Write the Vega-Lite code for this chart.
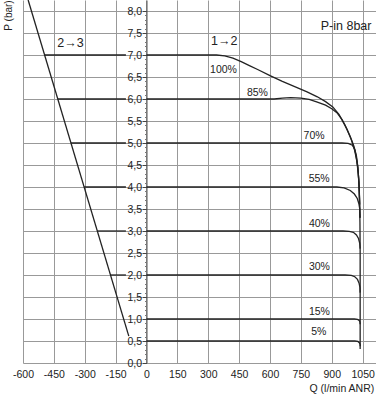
{
  "$schema": "https://vega.github.io/schema/vega-lite/v6.json",
  "width": 353,
  "height": 363,
  "autosize": {"type": "none"},
  "padding": {"left": 23, "top": 0, "right": 0, "bottom": 31},
  "config": {
    "font": "Liberation Sans",
    "view": {"stroke": null},
    "axis": {"labelColor": "#222", "titleColor": "#222", "titleFontWeight": "normal"}
  },
  "resolve": {"axis": {"y": "independent"}},
  "datasets": {
    "curves": [
      {"s": "23", "i": 0, "q": -575, "p": 8.25}, {"s": "23", "i": 1, "q": -86, "p": 0.61},
      {"s": "L7", "i": 0, "q": -495, "p": 7}, {"s": "L7", "i": 1, "q": -100, "p": 7},
      {"s": "L6", "i": 0, "q": -431, "p": 6}, {"s": "L6", "i": 1, "q": -100, "p": 6},
      {"s": "L5", "i": 0, "q": -367, "p": 5}, {"s": "L5", "i": 1, "q": -100, "p": 5},
      {"s": "L4", "i": 0, "q": -303, "p": 4}, {"s": "L4", "i": 1, "q": -100, "p": 4},
      {"s": "L3", "i": 0, "q": -239, "p": 3}, {"s": "L3", "i": 1, "q": -100, "p": 3},
      {"s": "L2", "i": 0, "q": -175, "p": 2}, {"s": "L2", "i": 1, "q": -100, "p": 2},
      {"s": "100", "i": 0, "q": 0, "p": 7}, {"s": "100", "i": 1, "q": 340, "p": 7},
      {"s": "100", "i": 2, "q": 380, "p": 6.98}, {"s": "100", "i": 3, "q": 420, "p": 6.93},
      {"s": "100", "i": 4, "q": 460, "p": 6.85}, {"s": "100", "i": 5, "q": 500, "p": 6.76},
      {"s": "100", "i": 6, "q": 540, "p": 6.67}, {"s": "100", "i": 7, "q": 600, "p": 6.53},
      {"s": "100", "i": 8, "q": 660, "p": 6.4}, {"s": "100", "i": 9, "q": 720, "p": 6.28},
      {"s": "100", "i": 10, "q": 780, "p": 6.16}, {"s": "100", "i": 11, "q": 830, "p": 6.05},
      {"s": "100", "i": 12, "q": 870, "p": 5.94}, {"s": "100", "i": 13, "q": 905, "p": 5.82},
      {"s": "100", "i": 14, "q": 935, "p": 5.65}, {"s": "100", "i": 15, "q": 965, "p": 5.4},
      {"s": "100", "i": 16, "q": 990, "p": 5.15}, {"s": "100", "i": 17, "q": 1008, "p": 4.92},
      {"s": "100", "i": 18, "q": 1018, "p": 4.72}, {"s": "100", "i": 19, "q": 1026, "p": 4.47},
      {"s": "100", "i": 20, "q": 1032, "p": 4.12}, {"s": "100", "i": 21, "q": 1035, "p": 3.7},
      {"s": "100", "i": 22, "q": 1037, "p": 3.2}, {"s": "100", "i": 23, "q": 1038, "p": 2.5},
      {"s": "100", "i": 24, "q": 1038, "p": 0.32},
      {"s": "85", "i": 0, "q": 0, "p": 6}, {"s": "85", "i": 1, "q": 620, "p": 6},
      {"s": "85", "i": 2, "q": 660, "p": 6.02}, {"s": "85", "i": 3, "q": 700, "p": 6.03},
      {"s": "85", "i": 4, "q": 750, "p": 6.02}, {"s": "85", "i": 5, "q": 790, "p": 5.99},
      {"s": "85", "i": 6, "q": 830, "p": 5.93}, {"s": "85", "i": 7, "q": 870, "p": 5.86},
      {"s": "85", "i": 8, "q": 900, "p": 5.78}, {"s": "85", "i": 9, "q": 925, "p": 5.69},
      {"s": "85", "i": 10, "q": 950, "p": 5.53}, {"s": "85", "i": 11, "q": 975, "p": 5.3},
      {"s": "85", "i": 12, "q": 996, "p": 5.06}, {"s": "85", "i": 13, "q": 1012, "p": 4.82},
      {"s": "85", "i": 14, "q": 1022, "p": 4.58}, {"s": "85", "i": 15, "q": 1029, "p": 4.3},
      {"s": "85", "i": 16, "q": 1034, "p": 3.9}, {"s": "85", "i": 17, "q": 1037, "p": 3.3},
      {"s": "70", "i": 0, "q": 0, "p": 5}, {"s": "70", "i": 1, "q": 950, "p": 5},
      {"s": "70", "i": 2, "q": 980, "p": 4.99}, {"s": "70", "i": 3, "q": 1000, "p": 4.95},
      {"s": "70", "i": 4, "q": 1012, "p": 4.86}, {"s": "70", "i": 5, "q": 1020, "p": 4.7},
      {"s": "70", "i": 6, "q": 1027, "p": 4.45}, {"s": "70", "i": 7, "q": 1032, "p": 4.1},
      {"s": "70", "i": 8, "q": 1036, "p": 3.6},
      {"s": "55", "i": 0, "q": 0, "p": 4}, {"s": "55", "i": 1, "q": 925, "p": 4},
      {"s": "55", "i": 2, "q": 960, "p": 3.98}, {"s": "55", "i": 3, "q": 990, "p": 3.92},
      {"s": "55", "i": 4, "q": 1010, "p": 3.84}, {"s": "55", "i": 5, "q": 1024, "p": 3.74},
      {"s": "55", "i": 6, "q": 1032, "p": 3.62}, {"s": "55", "i": 7, "q": 1036, "p": 3.5},
      {"s": "55", "i": 8, "q": 1038, "p": 3.3},
      {"s": "40", "i": 0, "q": 0, "p": 3}, {"s": "40", "i": 1, "q": 955, "p": 3},
      {"s": "40", "i": 2, "q": 985, "p": 2.99}, {"s": "40", "i": 3, "q": 1005, "p": 2.97},
      {"s": "40", "i": 4, "q": 1020, "p": 2.91}, {"s": "40", "i": 5, "q": 1030, "p": 2.83},
      {"s": "40", "i": 6, "q": 1036, "p": 2.72}, {"s": "40", "i": 7, "q": 1038, "p": 2.6},
      {"s": "30", "i": 0, "q": 0, "p": 2}, {"s": "30", "i": 1, "q": 965, "p": 2},
      {"s": "30", "i": 2, "q": 995, "p": 1.99}, {"s": "30", "i": 3, "q": 1012, "p": 1.96},
      {"s": "30", "i": 4, "q": 1025, "p": 1.9}, {"s": "30", "i": 5, "q": 1033, "p": 1.81},
      {"s": "30", "i": 6, "q": 1037, "p": 1.72}, {"s": "30", "i": 7, "q": 1038, "p": 1.6},
      {"s": "15", "i": 0, "q": 0, "p": 1}, {"s": "15", "i": 1, "q": 1010, "p": 1},
      {"s": "15", "i": 2, "q": 1025, "p": 0.99}, {"s": "15", "i": 3, "q": 1033, "p": 0.97},
      {"s": "15", "i": 4, "q": 1037, "p": 0.93}, {"s": "15", "i": 5, "q": 1038, "p": 0.88},
      {"s": "5", "i": 0, "q": 0, "p": 0.5}, {"s": "5", "i": 1, "q": 1012, "p": 0.5},
      {"s": "5", "i": 2, "q": 1027, "p": 0.49}, {"s": "5", "i": 3, "q": 1034, "p": 0.46},
      {"s": "5", "i": 4, "q": 1038, "p": 0.42}, {"s": "5", "i": 5, "q": 1038, "p": 0.38}
    ],
    "big": [
      {"t": "2→3", "q": -369, "p": 7.27},
      {"t": "1→2", "q": 378, "p": 7.31}
    ],
    "corner": [
      {"t": "P-in 8bar", "q": 1093, "p": 7.67}
    ],
    "pct": [
      {"t": "100%", "q": 374, "p": 6.67},
      {"t": "85%", "q": 539, "p": 6.13},
      {"t": "70%", "q": 814, "p": 5.17},
      {"t": "55%", "q": 839, "p": 4.19},
      {"t": "40%", "q": 840, "p": 3.17},
      {"t": "30%", "q": 840, "p": 2.18},
      {"t": "15%", "q": 840, "p": 1.16},
      {"t": "5%", "q": 837, "p": 0.7}
    ]
  },
  "encoding": {
    "x": {
      "field": "q", "type": "quantitative",
      "scale": {"domain": [-600, 1115], "nice": false, "zero": false},
      "axis": {
        "orient": "bottom",
        "values": [-600, -450, -300, -150, 0, 150, 300, 450, 600, 750, 900, 1050],
        "labelExpr": "'' + datum.value",
        "grid": true, "gridColor": "#999", "gridWidth": 1,
        "ticks": false, "domain": false,
        "labelPadding": 6, "labelFontSize": 10.5, "labelFlush": false, "labelOverlap": false,
        "title": "Q (l/min ANR)", "titleFontSize": 10.5,
        "titleX": 286, "titleY": 25, "titleAlign": "left", "titleBaseline": "middle"
      }
    }
  },
  "layer": [
    {
      "data": {"name": "curves"},
      "mark": {"type": "line", "color": "#222", "strokeWidth": 1.3, "clip": true},
      "encoding": {
        "y": {
          "field": "p", "type": "quantitative",
          "scale": {"domain": [0, 8.25], "nice": false, "zero": true},
          "axis": {
            "orient": "left", "offset": -123.5,
            "values": [0, 0.5, 1, 1.5, 2, 2.5, 3, 3.5, 4, 4.5, 5, 5.5, 6, 6.5, 7, 7.5, 8],
            "labelExpr": "replace(format(datum.value, '.1f'), '.', ',')",
            "labelFontSize": 10.5, "labelPadding": 1,
            "tickSize": 4, "tickColor": "#444",
            "domain": true, "domainColor": "#555",
            "grid": true, "gridColor": "#999", "gridWidth": 1,
            "title": "P (bar)", "titleFontSize": 10,
            "titleX": -138.5, "titleY": 15, "titleAngle": -90,
            "titleAlign": "center", "titleBaseline": "middle"
          }
        },
        "detail": {"field": "s", "type": "nominal"},
        "order": {"field": "i", "type": "quantitative"}
      }
    },
    {
      "data": {"name": "big"},
      "mark": {"type": "text", "fontSize": 12.5, "color": "#222", "align": "center", "baseline": "middle"},
      "encoding": {
        "y": {"field": "p", "type": "quantitative", "axis": null},
        "text": {"field": "t"}
      }
    },
    {
      "data": {"name": "corner"},
      "mark": {"type": "text", "fontSize": 12.5, "color": "#222", "align": "right", "baseline": "middle"},
      "encoding": {
        "y": {"field": "p", "type": "quantitative", "axis": null},
        "text": {"field": "t"}
      }
    },
    {
      "data": {"name": "pct"},
      "mark": {"type": "text", "fontSize": 10.5, "color": "#222", "align": "center", "baseline": "middle"},
      "encoding": {
        "y": {
          "field": "p", "type": "quantitative",
          "axis": {
            "orient": "left", "offset": -123.5,
            "values": [0.1, 0.2, 0.3, 0.4, 0.6, 0.7, 0.8, 0.9, 1.1, 1.2, 1.3, 1.4, 1.6, 1.7, 1.8, 1.9, 2.1, 2.2, 2.3, 2.4, 2.6, 2.7, 2.8, 2.9, 3.1, 3.2, 3.3, 3.4, 3.6, 3.7, 3.8, 3.9, 4.1, 4.2, 4.3, 4.4, 4.6, 4.7, 4.8, 4.9, 5.1, 5.2, 5.3, 5.4, 5.6, 5.7, 5.8, 5.9, 6.1, 6.2, 6.3, 6.4, 6.6, 6.7, 6.8, 6.9, 7.1, 7.2, 7.3, 7.4, 7.6, 7.7, 7.8, 7.9],
            "labels": false, "grid": false, "domain": false,
            "ticks": true, "tickSize": 2, "tickColor": "#777",
            "title": null
          }
        },
        "text": {"field": "t"}
      }
    }
  ]
}
